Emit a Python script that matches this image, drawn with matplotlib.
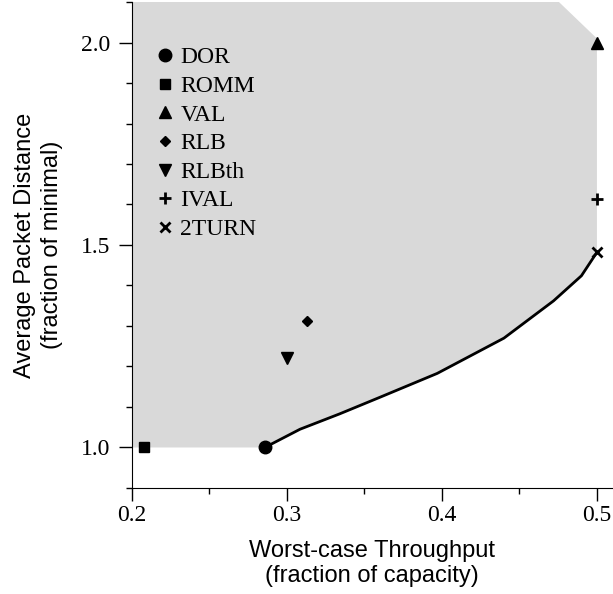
import numpy as np
import matplotlib.pyplot as plt
from matplotlib.ticker import MultipleLocator

# curva limite (DOR -> 2TURN)
curva_x = [0.2857, 0.3084, 0.334, 0.36, 0.397, 0.44, 0.472, 0.49, 0.5]
curva_y = [1.0, 1.045, 1.083, 1.124, 1.183, 1.27, 1.362, 1.424, 1.482]

# contorno superior da regiao cinza
regiao_x = [0.2, 0.2, 0.4755, 0.5]
regiao_y = [1.0, 2.1, 2.1, 2.01]

# algoritmos
nomes = ['DOR', 'ROMM', 'VAL', 'RLB', 'RLBth', 'IVAL', '2TURN']
thr = [0.2857, 0.208, 0.5, 0.3127, 0.3003, 0.5, 0.5]
dist = [1.0, 1.0, 2.0, 1.312, 1.22, 1.6125, 1.482]
marcas = ['o', 's', '^', 'D', 'v', '+', 'x']
tamanhos = [9, 7.5, 8, 5.5, 8, 8, 6.5]

fig = plt.figure(figsize=(6.13, 5.94), dpi=100)
graf = fig.add_axes([0.2153, 0.1785, 0.7830, 0.8181])

px = regiao_x + curva_x[::-1]
py = regiao_y + curva_y[::-1]
graf.fill(px, py, color='#d9d9d9', lw=0, zorder=1)
graf.plot(curva_x, curva_y, 'k-', lw=2, zorder=2)

for n, x, y, m, s in zip(nomes, thr, dist, marcas, tamanhos):
    mew = 2 if m in ('+', 'x') else 1
    graf.plot(x, y, m, color='k', ms=s, mew=mew, ls='none', label=n,
              zorder=3, clip_on=False)

graf.set_xlim(0.2, 0.5097)
graf.set_ylim(0.9, 2.1)
graf.xaxis.set_minor_locator(MultipleLocator(0.05))
graf.yaxis.set_minor_locator(MultipleLocator(0.1))
graf.set_xticks([0.2, 0.3, 0.4, 0.5])
graf.set_xticklabels(['0.2', '0.3', '0.4', '0.5'])
graf.set_yticks([1.0, 1.5, 2.0])
graf.set_yticklabels(['1.0', '1.5', '2.0'])
for lab in graf.get_xticklabels() + graf.get_yticklabels():
    lab.set_family('Liberation Serif')
    lab.set_fontsize(17)
graf.tick_params(which='major', length=9.5, width=1, direction='out')
graf.tick_params(which='minor', length=4, width=1, direction='out')
graf.tick_params(axis='x', which='major', pad=3)
graf.tick_params(axis='y', which='major', pad=6)

for lado in ['top', 'right']:
    graf.spines[lado].set_visible(False)

graf.set_xlabel('Worst-case Throughput\n(fraction of capacity)',
                family='Liberation Sans', fontsize=17, labelpad=10,
                linespacing=1.15)
graf.set_ylabel('Average Packet Distance\n(fraction of minimal)',
                family='Liberation Sans', fontsize=17, labelpad=13,
                linespacing=1.3)

graf.legend(loc='upper left', frameon=False, handlelength=0.8,
            handletextpad=0.25, labelspacing=0.3, borderaxespad=0.8,
            prop={'family': 'Liberation Serif', 'size': 17},
            bbox_to_anchor=(-0.01, 0.966))

fig.savefig('out.png', dpi=100)
